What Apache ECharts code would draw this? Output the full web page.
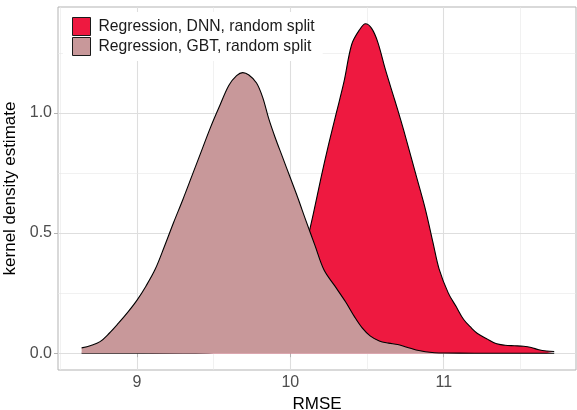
<!DOCTYPE html>
<html>
<head>
<meta charset="utf-8">
<script src="https://cdn.jsdelivr.net/npm/echarts@6/dist/echarts.min.js"></script>
<style>
html,body{margin:0;padding:0;background:#fff;}
#chart{width:577px;height:410px;}
</style>
</head>
<body>
<div id="chart"></div>
<script>
// ---- data ----
const seriesNames = ['Regression, DNN, random split', 'Regression, GBT, random split'];
const dnnX = [8.64, 9.30, 9.50, 9.70, 9.80, 9.90, 9.95, 10.00, 10.05, 10.10, 10.15, 10.20, 10.25, 10.30, 10.35, 10.40, 10.45, 10.49, 10.53, 10.57, 10.62, 10.68, 10.72, 10.76, 10.82, 10.88, 10.93, 10.97, 11.03, 11.08, 11.13, 11.18, 11.22, 11.28, 11.34, 11.40, 11.46, 11.52, 11.57, 11.62, 11.67, 11.72];
const dnnY = [0.000, 0.001, 0.003, 0.012, 0.030, 0.075, 0.120, 0.200, 0.310, 0.440, 0.580, 0.730, 0.870, 1.000, 1.130, 1.285, 1.345, 1.371, 1.352, 1.295, 1.180, 1.055, 0.970, 0.880, 0.740, 0.600, 0.460, 0.350, 0.250, 0.195, 0.140, 0.105, 0.082, 0.060, 0.040, 0.033, 0.031, 0.029, 0.024, 0.014, 0.009, 0.007];
const gbtX = [8.64, 8.70, 8.76, 8.82, 8.88, 8.94, 9.00, 9.06, 9.12, 9.18, 9.24, 9.30, 9.36, 9.42, 9.48, 9.54, 9.60, 9.65, 9.69, 9.73, 9.78, 9.82, 9.86, 9.90, 9.95, 10.00, 10.05, 10.10, 10.16, 10.22, 10.29, 10.36, 10.42, 10.47, 10.52, 10.58, 10.64, 10.70, 10.76, 10.82, 10.88, 10.94, 11.00, 11.20, 11.72];
const gbtY = [0.022, 0.032, 0.048, 0.083, 0.125, 0.170, 0.220, 0.280, 0.350, 0.445, 0.545, 0.640, 0.740, 0.840, 0.940, 1.030, 1.115, 1.155, 1.168, 1.158, 1.125, 1.065, 0.975, 0.900, 0.815, 0.730, 0.645, 0.555, 0.450, 0.346, 0.280, 0.214, 0.150, 0.104, 0.072, 0.051, 0.042, 0.036, 0.025, 0.013, 0.006, 0.002, 0.0005, 0.000, 0.000];
const xTicks = [9, 10, 11];
const yTicks = [0, 0.5, 1.0];
const xMinorGrid = [8.5, 9.5, 10.5, 11.5];
const yMinorGrid = [0.25, 0.75, 1.25];
const xTitle = 'RMSE';
const yTitle = 'kernel density estimate';

// ---- chart ----
const FONT = '"Liberation Sans", Arial, sans-serif';
const colors = ['#EE1940', '#C8989A'];
const pairs = (xs, ys) => xs.map((x, i) => [x, ys[i]]);

const gridLines = [];
xTicks.forEach(v => gridLines.push({xAxis: v, lineStyle: {color: '#DEDEDE', width: 1.1, type: 'solid'}}));
xMinorGrid.forEach(v => gridLines.push({xAxis: v, lineStyle: {color: '#E8E8E8', width: 0.6, type: 'solid'}}));
yTicks.forEach(v => gridLines.push({yAxis: v, lineStyle: {color: '#DEDEDE', width: 1.1, type: 'solid'}}));
yMinorGrid.forEach(v => gridLines.push({yAxis: v, lineStyle: {color: '#E8E8E8', width: 0.6, type: 'solid'}}));

const chart = echarts.init(document.getElementById('chart'), null, {renderer: 'canvas'});
chart.setOption({
  animation: false,
  backgroundColor: '#fff',
  textStyle: {fontFamily: FONT},
  grid: {left: 58, right: 1, top: 7, bottom: 40, containLabel: false, outerBoundsMode: 'none',
         show: true, borderColor: '#B3B3B3', borderWidth: 1, backgroundColor: 'transparent'},
  legend: {
    orient: 'vertical', left: 63, top: 12, z: 10,
    padding: [5, 8, 5, 9],
    backgroundColor: '#fff',
    itemWidth: 18, itemHeight: 18, itemGap: 1,
    icon: 'rect',
    selectedMode: false,
    textStyle: {fontFamily: FONT, fontSize: 15.7, color: '#1A1A1A', padding: [0, 0, 0, 3]},
    data: [
      {name: seriesNames[0], itemStyle: {color: colors[0], borderColor: '#1A1A1A', borderWidth: 1}},
      {name: seriesNames[1], itemStyle: {color: colors[1], borderColor: '#1A1A1A', borderWidth: 1}}
    ]
  },
  xAxis: {
    type: 'value', min: 8.486, max: 11.862,
    name: xTitle, nameLocation: 'middle', nameGap: 22,
    nameTextStyle: {fontFamily: FONT, fontSize: 17, color: '#000'},
    axisLine: {show: false},
    axisTick: {show: true, customValues: xTicks, length: 4, lineStyle: {color: '#B3B3B3', width: 1}},
    axisLabel: {customValues: xTicks, margin: 5, fontFamily: FONT, fontSize: 16, color: '#4D4D4D', formatter: v => String(v)},
    splitLine: {show: false}
  },
  yAxis: {
    type: 'value', min: -0.070, max: 1.441,
    name: yTitle, nameLocation: 'middle', nameGap: 36, nameRotate: 90,
    nameTextStyle: {fontFamily: FONT, fontSize: 17, color: '#000'},
    axisLine: {show: false},
    axisTick: {show: true, customValues: yTicks, length: 4, lineStyle: {color: '#B3B3B3', width: 1}},
    axisLabel: {customValues: yTicks, margin: 6, fontFamily: FONT, fontSize: 16, color: '#4D4D4D', formatter: v => v.toFixed(1)},
    splitLine: {show: false}
  },
  series: [
    {
      name: '__grid', type: 'line', z: 1, silent: true,
      data: [[9, 0]], symbol: 'none', lineStyle: {opacity: 0},
      markLine: {z: 0, silent: true, symbol: 'none', label: {show: false}, animation: false, data: gridLines}
    },
    {
      name: seriesNames[0], type: 'line', z: 2, smooth: 0.35, symbol: 'none',
      data: pairs(dnnX, dnnY),
      itemStyle: {color: colors[0]},
      lineStyle: {color: '#000', width: 1.1},
      areaStyle: {color: colors[0], opacity: 1}
    },
    {
      name: seriesNames[1], type: 'line', z: 3, smooth: 0.35, symbol: 'none',
      data: pairs(gbtX, gbtY),
      itemStyle: {color: colors[1]},
      lineStyle: {color: '#000', width: 1.1},
      areaStyle: {color: colors[1], opacity: 1}
    }
  ]
});
</script>
</body>
</html>
